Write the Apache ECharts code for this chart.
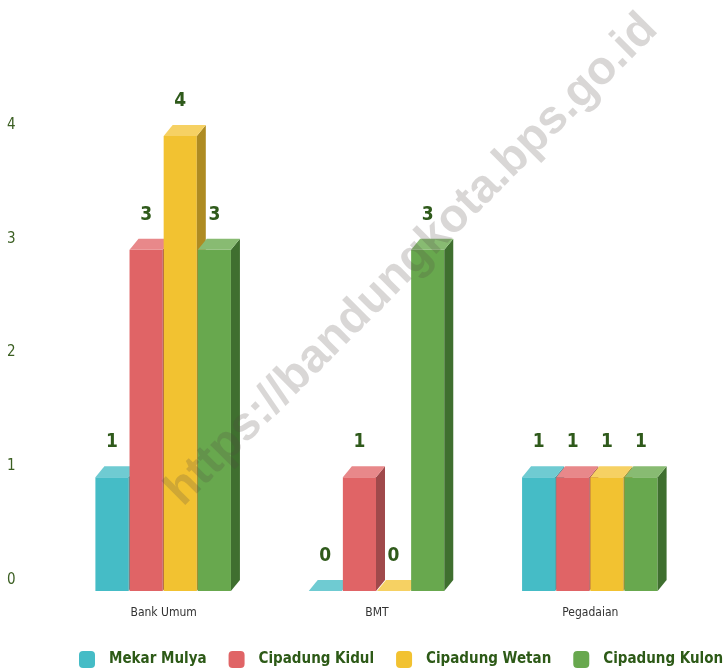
<!DOCTYPE html>
<html>
<head>
<meta charset="utf-8">
<script src="https://cdn.jsdelivr.net/npm/echarts@6/dist/echarts.min.js"></script>
<style>
  html, body { margin: 0; padding: 0; background: #fff; }
  #main { width: 727px; height: 669px; }
</style>
</head>
<body>
<div id="main"></div>
<script>
// data
var categories = ['Bank Umum', 'BMT', 'Pegadaian'];
var seriesNames = ['Mekar Mulya', 'Cipadung Kidul', 'Cipadung Wetan', 'Cipadung Kulon'];
var mekarMulya = [1, 0, 1];
var cipadungKidul = [3, 1, 1];
var cipadungWetan = [4, 0, 1];
var cipadungKulon = [3, 3, 1];
var seriesValues = [mekarMulya, cipadungKidul, cipadungWetan, cipadungKulon];
var yTicks = [0, 1, 2, 3, 4];

// warna: depan, atas, samping
var faceColors = [
    ['#45bcc6', '#6fcbd2', '#33939a'],
    ['#e06466', '#e8888a', '#a0494b'],
    ['#f2c231', '#f6d163', '#ae8b22'],
    ['#68a84e', '#88bb72', '#3f6f2f']
];
var DX = 9, DY = 11;
var narrow = '"DejaVu Sans Condensed", "Liberation Sans Narrow", sans-serif';
var labelFont = 'bold 19px "DejaVu Sans Condensed", sans-serif';

function makeRender(s) {
    return function (params, api) {
        var idx = api.value(0), val = api.value(1);
        var p = api.coord([idx, val]);
        var p0 = api.coord([idx, 0]);
        var band = api.size([1, 0])[0];
        var w = band * 0.16;
        var x0 = p[0] + (s - 2) * w;
        var x1 = x0 + w - 1;
        var yt = p[1] + DY, yb = p0[1] + DY;
        var c = faceColors[s];
        var children = [
            { type: 'rect', shape: { x: x0, y: yt, width: w - 1, height: yb - yt }, style: { fill: c[0] } },
            { type: 'polygon', shape: { points: [[x1, yt], [x1 + DX, yt - DY], [x1 + DX, yb - DY], [x1, yb]] }, style: { fill: c[2] } },
            { type: 'polygon', shape: { points: [[x0, yt], [x1, yt], [x1 + DX, yt - DY], [x0 + DX, yt - DY]] }, style: { fill: c[1] } },
            { type: 'text', style: {
                text: String(val), x: (x0 + x1) / 2, y: yt - 35,
                align: 'center', verticalAlign: 'middle',
                font: labelFont, fill: '#2f5a1b', stroke: '#fff', lineWidth: 3
            } }
        ];
        return { type: 'group', children: children };
    };
}

var chart = echarts.init(document.getElementById('main'));

var series = seriesNames.map(function (name, s) {
    return {
        name: name,
        type: 'custom',
        renderItem: makeRender(s),
        itemStyle: { color: faceColors[s][0] },
        encode: { x: 0, y: 1 },
        data: seriesValues[s].map(function (v, i) { return [i, v]; })
    };
});

chart.setOption({
    animation: false,
    grid: { left: 57, right: 30, top: 125, bottom: 89 },
    xAxis: {
        type: 'category',
        data: categories,
        axisLine: { show: false },
        axisTick: { show: false },
        axisLabel: { margin: 27, color: '#333', fontSize: 12, fontFamily: narrow }
    },
    yAxis: {
        type: 'value',
        min: 0, max: 4, interval: 1,
        splitLine: { show: false },
        axisLabel: {
            align: 'left', margin: 50, color: '#3b5f22', fontSize: 15,
            fontFamily: narrow,
            formatter: function (v) { return yTicks.indexOf(v) >= 0 ? String(v) : ''; }
        }
    },
    legend: {
        data: seriesNames,
        top: 646,
        left: 74,
        width: 700,
        icon: 'roundRect',
        itemWidth: 16,
        itemHeight: 17,
        itemGap: 22,
        textStyle: {
            color: '#2d5a17', fontSize: 15, fontWeight: 'bold', fontFamily: narrow,
            padding: [0, 0, 0, 9]
        }
    },
    graphic: [{
        type: 'text',
        x: 412, y: 260,
        rotation: Math.PI / 4,
        z: 100,
        style: {
            text: 'https://bandungkota.bps.go.id',
            font: 'bold 47px "Liberation Sans", Arial, sans-serif',
            fill: 'rgba(80, 75, 70, 0.22)',
            align: 'center', verticalAlign: 'middle'
        }
    }],
    series: series
});
</script>
</body>
</html>
